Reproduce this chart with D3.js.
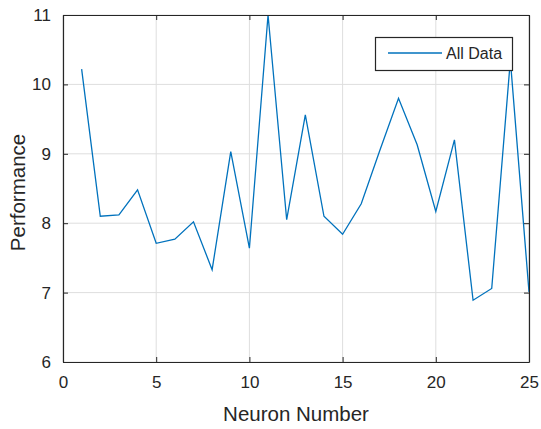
<!DOCTYPE html>
<html>
<head>
<meta charset="utf-8">
<script src="https://cdn.jsdelivr.net/npm/d3@7"></script>
<style>
  html, body { margin: 0; padding: 0; background: #fff; }
  svg { display: block; font-family: "Liberation Sans", Arial, sans-serif; }
</style>
</head>
<body>
<svg id="chart" width="541" height="429"></svg>
<script>
// Performance per neuron count
const neurons = [1,2,3,4,5,6,7,8,9,10,11,12,13,14,15,16,17,18,19,20,21,22,23,24,25];
const performance = [10.22,8.10,8.12,8.48,7.71,7.77,8.02,7.33,9.03,7.64,11.0,8.05,9.56,8.10,7.84,8.28,9.05,9.80,9.13,8.17,9.20,6.89,7.06,10.35,7.01];
const xTicks = [0,5,10,15,20,25];
const yTicks = [6,7,8,9,10,11];
const seriesName = "All Data";

const svg = d3.select("#chart");
const plotL = 63, plotR = 529, plotT = 15, plotB = 362;

const x = d3.scaleLinear().domain([0, 25]).range([plotL, plotR]);
const y = d3.scaleLinear().domain([6, 11]).range([plotB, plotT]);

const ink = "#262626";
const gridColor = "#dedede";

// grid
const grid = svg.append("g");
grid.selectAll("line.gx").data(xTicks).join("line")
  .attr("x1", d => x(d)).attr("x2", d => x(d))
  .attr("y1", plotT).attr("y2", plotB)
  .attr("stroke", gridColor).attr("stroke-width", 1);
grid.selectAll("line.gy").data(yTicks).join("line")
  .attr("x1", plotL).attr("x2", plotR)
  .attr("y1", d => y(d)).attr("y2", d => y(d))
  .attr("stroke", gridColor).attr("stroke-width", 1);

// data line
const line = d3.line().x((d, i) => x(neurons[i])).y(d => y(d));
svg.append("path")
  .datum(performance)
  .attr("d", line)
  .attr("fill", "none")
  .attr("stroke", "#0072BD")
  .attr("stroke-width", 1.3)
  .attr("stroke-linejoin", "miter");

// axes with inward ticks on all four sides
const tickLen = 5;
const fmt = d3.format("d");
const bottomAxis = d3.axisBottom(x).tickValues(xTicks).tickFormat(fmt).tickSizeInner(-tickLen).tickSizeOuter(0).tickPadding(14);
const leftAxis = d3.axisLeft(y).tickValues(yTicks).tickFormat(fmt).tickSizeInner(-tickLen).tickSizeOuter(0).tickPadding(12);
const topAxis = d3.axisTop(x).tickValues(xTicks).tickSizeInner(-tickLen).tickSizeOuter(0).tickFormat("");
const rightAxis = d3.axisRight(y).tickValues(yTicks).tickSizeInner(-tickLen).tickSizeOuter(0).tickFormat("");

function style(g) {
  g.select(".domain").attr("stroke", ink).attr("stroke-width", 1.2);
  g.selectAll(".tick line").attr("stroke", ink);
  g.selectAll(".tick text").attr("fill", ink).attr("font-size", 17)
    .attr("font-family", "Liberation Sans, Arial, sans-serif");
}
svg.append("g").attr("transform", `translate(0,${plotB})`).call(bottomAxis).call(style);
svg.append("g").attr("transform", `translate(${plotL},0)`).call(leftAxis).call(style);
svg.append("g").attr("transform", `translate(0,${plotT})`).call(topAxis).call(style);
svg.append("g").attr("transform", `translate(${plotR},0)`).call(rightAxis).call(style);

// axis titles
svg.append("text")
  .attr("x", (plotL + plotR) / 2).attr("y", 421)
  .attr("text-anchor", "middle")
  .attr("font-size", 20.5).attr("fill", ink)
  .text("Neuron Number");
svg.append("text")
  .attr("transform", `translate(25,${(plotT + plotB) / 2 + 4}) rotate(-90)`)
  .attr("text-anchor", "middle")
  .attr("font-size", 20.5).attr("fill", ink)
  .text("Performance");

// legend
const lg = svg.append("g");
lg.append("rect")
  .attr("x", 375.5).attr("y", 37.5).attr("width", 137).attr("height", 33)
  .attr("fill", "#fff").attr("stroke", ink).attr("stroke-width", 1.2);
lg.append("line")
  .attr("x1", 388).attr("x2", 442).attr("y1", 53).attr("y2", 53)
  .attr("stroke", "#0072BD").attr("stroke-width", 1.3);
lg.append("text")
  .attr("x", 446).attr("y", 59)
  .attr("font-size", 16).attr("fill", ink)
  .text(seriesName);
</script>
</body>
</html>
